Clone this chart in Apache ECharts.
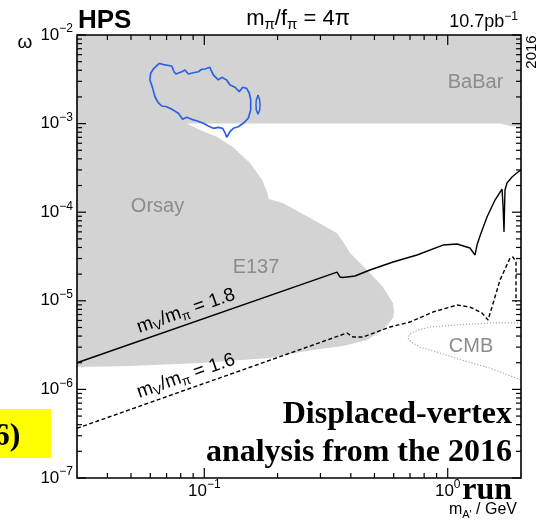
<!DOCTYPE html>
<html><head><meta charset="utf-8">
<script src="https://cdn.jsdelivr.net/npm/echarts@6/dist/echarts.min.js"></script>
<style>html,body{margin:0;padding:0;background:#fff}#c{width:541px;height:520px}</style>
</head><body><div id="c"></div>
<script>
// ---- axis ranges and ticks ----
const X_MIN = 0.03, X_MAX = 2, Y_MIN = 1e-7, Y_MAX = 1e-2;
const xMajorTicks = [0.1, 1];
const xMajorLabels = ['{b|10}{e|−1}', '{b|10}{e|0}'];
const xMinorTicks = [0.04, 0.05, 0.06, 0.07, 0.08, 0.09, 0.2, 0.3, 0.4, 0.5, 0.6, 0.7, 0.8, 0.9];
const yMajorTicks = [1e-7, 1e-6, 1e-5, 1e-4, 1e-3, 1e-2];
const yMajorLabels = ['{b|10}{e|−7}', '{b|10}{e|−6}', '{b|10}{e|−5}', '{b|10}{e|−4}', '{b|10}{e|−3}', '{b|10}{e|−2}'];
const minorMultipliers = [2, 3, 4, 5, 6, 7, 8, 9];

// ---- excluded region (BaBar + Orsay + E137 union) ----
const exclusionX = [0.03, 2.0, 2.0, 1.80, 1.64, 0.0849, 0.096, 0.113, 0.131, 0.154, 0.173, 0.181, 0.184, 0.210, 0.272, 0.351, 0.372, 0.397, 0.466, 0.542, 0.596, 0.602, 0.596, 0.542, 0.466, 0.372, 0.299, 0.247, 0.186, 0.096, 0.0495, 0.03];
const exclusionY = [1e-2, 1e-2, 9.16e-4, 9.4e-4, 1e-3, 1e-3, 8.47e-4, 7.06e-4, 5.44e-4, 3.59e-4, 2.31e-4, 1.69e-4, 1.41e-4, 1.27e-4, 8.6e-5, 5.8e-5, 4.6e-5, 3.47e-5, 2.23e-5, 1.43e-5, 9.4e-6, 7.5e-6, 6.4e-6, 4.68e-6, 3.61e-6, 3.09e-6, 2.86e-6, 2.64e-6, 2.26e-6, 1.99e-6, 1.84e-6, 1.79e-6];

// ---- HPS contour (blue) ----
const hpsContourX = [0.0653, 0.0690, 0.0735, 0.0751, 0.0765, 0.0808, 0.0833, 0.0860, 0.0901, 0.0945, 0.0976, 0.1007, 0.1055, 0.1073, 0.1089, 0.1142, 0.1179, 0.1236, 0.1275, 0.1337, 0.1392, 0.1438, 0.1493, 0.1531, 0.1551, 0.1551, 0.1516, 0.1446, 0.1379, 0.1316, 0.1275, 0.1236, 0.1220, 0.1190, 0.1142, 0.1089, 0.1039, 0.0991, 0.0931, 0.0888, 0.0847, 0.0815, 0.0782, 0.0746, 0.0701, 0.0668, 0.0647, 0.0627, 0.0614, 0.0598, 0.0602, 0.0621, 0.0653];
const hpsContourY = [4.79e-3, 4.59e-3, 4.47e-3, 3.85e-3, 3.63e-3, 3.85e-3, 4.03e-3, 3.63e-3, 3.75e-3, 3.85e-3, 4.10e-3, 4.13e-3, 4.32e-3, 3.85e-3, 3.54e-3, 3.11e-3, 3.33e-3, 3.11e-3, 2.73e-3, 2.57e-3, 2.29e-3, 2.57e-3, 2.50e-3, 2.20e-3, 1.85e-3, 1.42e-3, 1.15e-3, 1.008e-3, 9.23e-4, 8.85e-4, 8.1e-4, 7.0e-4, 7.77e-4, 8.85e-4, 9.08e-4, 8.85e-4, 9.39e-4, 1.008e-3, 1.078e-3, 1.118e-3, 1.178e-3, 1.118e-3, 1.307e-3, 1.42e-3, 1.55e-3, 1.58e-3, 1.72e-3, 2.01e-3, 2.50e-3, 3.11e-3, 3.70e-3, 4.21e-3, 4.79e-3];
const hpsIslandX = [0.1662, 0.1688, 0.1694, 0.1688, 0.1662, 0.1636, 0.1631, 0.1636, 0.1662];
const hpsIslandY = [2.10e-3, 1.85e-3, 1.64e-3, 1.42e-3, 1.28e-3, 1.42e-3, 1.64e-3, 1.85e-3, 2.10e-3];

// ---- mV/mpi = 1.8 (solid) ----
const ratio18X = [0.03, 0.351, 0.361, 0.371, 0.416, 0.479, 0.596, 0.748, 0.956, 1.092, 1.234, 1.295, 1.319, 1.357, 1.450, 1.564, 1.671, 1.687, 1.703, 1.719, 1.752, 1.837, 1.944, 2.0];
const ratio18Y = [2.0e-6, 2.11e-5, 1.855e-5, 1.83e-5, 1.905e-5, 2.226e-5, 2.74e-5, 3.29e-5, 4.26e-5, 4.375e-5, 3.94e-5, 3.29e-5, 4.26e-5, 5.39e-5, 8.83e-5, 1.373e-4, 1.827e-4, 1.206e-4, 5.98e-5, 1.78e-4, 2.136e-4, 2.496e-4, 2.84e-4, 2.995e-4];

// ---- mV/mpi = 1.6 (dashed) ----
const ratio16X = [0.03, 0.3858, 0.4083, 0.4487, 0.5792, 0.6999, 0.870, 1.092, 1.234, 1.383, 1.464, 1.520, 1.640, 1.803, 1.854, 1.908, 1.908];
const ratio16Y = [3.64e-7, 4.33e-6, 3.90e-6, 3.90e-6, 5.06e-6, 5.76e-6, 7.47e-6, 8.96e-6, 8.51e-6, 7.28e-6, 6.07e-6, 8.51e-6, 1.716e-5, 3.04e-5, 3.12e-5, 2.74e-5, 9.69e-6];

// ---- CMB (dotted) ----
const cmbX = [2.0, 1.492, 1.092, 0.8459, 0.7547, 0.6999, 0.6866, 0.7066, 0.7692, 0.9297, 1.178, 1.492, 2.0];
const cmbY = [5.62e-6, 5.62e-6, 5.33e-6, 5.06e-6, 4.68e-6, 4.22e-6, 3.80e-6, 3.43e-6, 3.01e-6, 2.57e-6, 2.09e-6, 1.74e-6, 1.28e-6];

// ---- build ----
const FS = '"Liberation Sans", Arial, Helvetica, sans-serif';
const SERIF = '"Liberation Serif", "Times New Roman", serif';
const zip = (xs, ys) => xs.map((x, i) => [x, ys[i]]);

const yMinorTicks = [];
for (let i = 0; i < yMajorTicks.length - 1; i++) for (const m of minorMultipliers) yMinorTicks.push(m * yMajorTicks[i]);
const xTickData = xMajorTicks.map((v, i) => [v, Y_MIN, 1, i]).concat(xMinorTicks.map(v => [v, Y_MIN, 0, -1]));
const yTickData = yMajorTicks.map((v, i) => [X_MIN, v, 1, i]).concat(yMinorTicks.map(v => [X_MIN, v, 0, -1]));

const labelRich = {
  b: { fontSize: 17, fontFamily: FS, lineHeight: 24, fill: '#000' },
  e: { fontSize: 12, fontFamily: FS, lineHeight: 13, verticalAlign: 'top', fill: '#000' }
};
const tickStyle = { stroke: '#000', lineWidth: 1.2 };

const chart = echarts.init(document.getElementById('c'), null, { renderer: 'canvas', width: 541, height: 520 });

const lineBase = { type: 'line', symbol: 'none', showSymbol: false, silent: true, animation: false, smooth: false };

const subRich = (size, sub) => ({
  b: { fontSize: size, fontFamily: FS, lineHeight: size + 4, fill: '#000' },
  s: { fontSize: sub, fontFamily: FS, lineHeight: sub, verticalAlign: 'bottom', fill: '#000' },
  p: { fontSize: sub, fontFamily: FS, lineHeight: sub + 1, verticalAlign: 'top', fill: '#000' }
});

const option = {
  animation: false,
  backgroundColor: '#fff',
  grid: { left: 77, top: 35, right: 20, bottom: 42, show: false, containLabel: false, outerBoundsMode: 'none' },
  xAxis: { type: 'log', logBase: 10, min: X_MIN, max: X_MAX, axisLine: { show: false }, axisTick: { show: false }, axisLabel: { show: false }, splitLine: { show: false }, minorTick: { show: false }, minorSplitLine: { show: false } },
  yAxis: { type: 'log', logBase: 10, min: Y_MIN, max: Y_MAX, axisLine: { show: false }, axisTick: { show: false }, axisLabel: { show: false }, splitLine: { show: false }, minorTick: { show: false }, minorSplitLine: { show: false } },
  series: [
    {
      type: 'custom', name: 'excluded', z: 1, silent: true,
      data: [[X_MIN, Y_MAX]],
      renderItem: function (params, api) {
        const pts = exclusionX.map((x, i) => api.coord([x, exclusionY[i]]));
        return { type: 'polygon', shape: { points: pts }, style: { fill: '#d3d3d3', stroke: null } };
      }
    },
    Object.assign({}, lineBase, { name: 'CMB', z: 3, data: zip(cmbX, cmbY), lineStyle: { color: '#ababab', width: 1.2, type: [1.2, 1.8] } }),
    Object.assign({}, lineBase, { name: 'ratio16', z: 4, data: zip(ratio16X, ratio16Y), lineStyle: { color: '#000', width: 1.4, type: [4, 2.5] } }),
    Object.assign({}, lineBase, { name: 'ratio18', z: 4, data: zip(ratio18X, ratio18Y), lineStyle: { color: '#000', width: 1.4 } }),
    Object.assign({}, lineBase, { name: 'hps', z: 5, data: zip(hpsContourX, hpsContourY), lineStyle: { color: '#2a62e6', width: 1.7 } }),
    Object.assign({}, lineBase, { name: 'hpsIsland', z: 5, data: zip(hpsIslandX, hpsIslandY), lineStyle: { color: '#2a62e6', width: 1.5 } }),
    {
      type: 'custom', name: 'xticks', z: 20, silent: true, data: xTickData, encode: { x: 0, y: 1 },
      renderItem: function (params, api) {
        const v = api.value(0), major = api.value(2), li = api.value(3);
        const b = api.coord([v, Y_MIN]), t = api.coord([v, Y_MAX]);
        const L = major ? 10 : 5;
        const ch = [
          { type: 'line', shape: { x1: b[0], y1: b[1], x2: b[0], y2: b[1] - L }, style: tickStyle },
          { type: 'line', shape: { x1: t[0], y1: t[1], x2: t[0], y2: t[1] + L }, style: tickStyle }
        ];
        if (major) ch.push({ type: 'text', x: b[0], y: b[1] + 1, style: { text: xMajorLabels[li], rich: labelRich, align: 'center', verticalAlign: 'top' } });
        return { type: 'group', children: ch };
      }
    },
    {
      type: 'custom', name: 'yticks', z: 20, silent: true, data: yTickData, encode: { x: 0, y: 1 },
      renderItem: function (params, api) {
        const v = api.value(1), major = api.value(2), li = api.value(3);
        const l = api.coord([X_MIN, v]), r = api.coord([X_MAX, v]);
        const L = major ? 9 : 5;
        const ch = [
          { type: 'line', shape: { x1: l[0], y1: l[1], x2: l[0] + L, y2: l[1] }, style: tickStyle },
          { type: 'line', shape: { x1: r[0], y1: r[1], x2: r[0] - L, y2: r[1] }, style: tickStyle }
        ];
        if (major) ch.push({ type: 'text', x: l[0] - 4, y: l[1], style: { text: yMajorLabels[li], rich: labelRich, align: 'right', verticalAlign: 'middle' } });
        return { type: 'group', children: ch };
      }
    },
    {
      type: 'custom', name: 'frame', z: 21, silent: true, data: [[X_MIN, Y_MIN]],
      renderItem: function (params, api) {
        const p0 = api.coord([X_MIN, Y_MAX]), p1 = api.coord([X_MAX, Y_MIN]);
        return { type: 'rect', shape: { x: p0[0], y: p0[1], width: p1[0] - p0[0], height: p1[1] - p0[1] }, style: { fill: null, stroke: '#000', lineWidth: 1.6 } };
      }
    }
  ],
  graphic: {
    elements: [
      { type: 'text', z: 50, x: 78, y: 21, style: { text: 'HPS', fontSize: 26, fontWeight: 'bold', fontFamily: FS, fill: '#000', align: 'left', verticalAlign: 'middle' } },
      { type: 'text', z: 50, x: 298, y: 19, style: { text: '{b|m}{s|π}{b|/f}{s|π}{b| = 4π}', rich: subRich(22, 15), align: 'center', verticalAlign: 'middle' } },
      { type: 'text', z: 50, x: 518, y: 22, style: { text: '{b|10.7pb}{p|−1}', rich: subRich(18, 12), align: 'right', verticalAlign: 'middle' } },
      { type: 'text', z: 50, x: 532, y: 52, rotation: Math.PI / 2, style: { text: '2016', fontSize: 15, fontFamily: FS, fill: '#000', align: 'center', verticalAlign: 'middle' } },
      { type: 'text', z: 50, x: 25, y: 43, style: { text: 'ω', fontSize: 19, fontFamily: FS, fill: '#000', align: 'center', verticalAlign: 'middle' } },
      { type: 'text', z: 50, x: 475.5, y: 82, style: { text: 'BaBar', fontSize: 20, fontFamily: FS, fill: '#8c8c8c', align: 'center', verticalAlign: 'middle' } },
      { type: 'text', z: 50, x: 157.5, y: 206, style: { text: 'Orsay', fontSize: 20, fontFamily: FS, fill: '#8c8c8c', align: 'center', verticalAlign: 'middle' } },
      { type: 'text', z: 50, x: 256, y: 267, style: { text: 'E137', fontSize: 20, fontFamily: FS, fill: '#8c8c8c', align: 'center', verticalAlign: 'middle' } },
      { type: 'text', z: 50, x: 471, y: 346.5, style: { text: 'CMB', fontSize: 20, fontFamily: FS, fill: '#8c8c8c', align: 'center', verticalAlign: 'middle' } },
      { type: 'text', z: 50, x: 186, y: 311, rotation: 0.337, style: { text: '{b|m}{s|V}{b|/m}{s|π}{b| = 1.8}', rich: subRich(19, 13), align: 'center', verticalAlign: 'middle' } },
      { type: 'text', z: 50, x: 186, y: 376, rotation: 0.337, style: { text: '{b|m}{s|V}{b|/m}{s|π}{b| = 1.6}', rich: subRich(19, 13), align: 'center', verticalAlign: 'middle' } },
      { type: 'text', z: 50, x: 517, y: 510, style: { text: "{b|m}{s|A'}{b| / GeV}", rich: subRich(16, 11), align: 'right', verticalAlign: 'middle' } },
      { type: 'rect', z: 60, shape: { x: 0, y: 409, width: 51, height: 49 }, style: { fill: '#ffff00' } },
      { type: 'text', z: 61, x: 20.5, y: 437, style: { text: '2016)', fontSize: 32, fontWeight: 'bold', fontFamily: SERIF, fill: '#000', align: 'right', verticalAlign: 'middle' } },
      { type: 'text', z: 61, x: 512, y: 415, style: { text: 'Displaced-vertex', fontSize: 32, fontWeight: 'bold', fontFamily: SERIF, fill: '#000', align: 'right', verticalAlign: 'middle' } },
      { type: 'text', z: 61, x: 512, y: 452.5, style: { text: 'analysis from the 2016', fontSize: 32, fontWeight: 'bold', fontFamily: SERIF, fill: '#000', align: 'right', verticalAlign: 'middle' } },
      { type: 'text', z: 61, x: 512, y: 491, style: { text: 'run', fontSize: 32, fontWeight: 'bold', fontFamily: SERIF, fill: '#000', align: 'right', verticalAlign: 'middle' } }
    ]
  }
};
chart.setOption(option);
</script>
</body></html>
